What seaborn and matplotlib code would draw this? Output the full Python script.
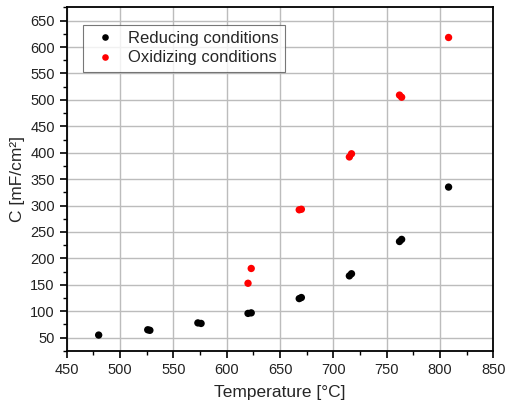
import numpy as np
import pandas as pd
import matplotlib
matplotlib.use("Agg")
import matplotlib.pyplot as plt
from matplotlib.ticker import MultipleLocator
import seaborn as sns

# Capacitance vs temperature, two measurements per temperature step
red_T = [480, 526, 528, 573, 576, 620, 623, 668, 670, 715, 717, 762, 764, 808]
red_C = [55, 65, 64, 78, 77, 96, 97, 124, 126, 167, 171, 232, 236, 335]
ox_T = [620, 623, 668, 670, 715, 717, 762, 764, 808]
ox_C = [153, 181, 292, 293, 392, 398, 509, 505, 618]

series_names = ["Reducing conditions", "Oxidizing conditions"]
series_colors = ["black", "red"]

df = pd.concat([
    pd.DataFrame({"T": red_T, "C": red_C, "cond": series_names[0]}),
    pd.DataFrame({"T": ox_T, "C": ox_C, "cond": series_names[1]}),
])

sns.set_theme(style="white")
plt.rcParams["font.family"] = ["Liberation Sans", "DejaVu Sans"]

fig = plt.figure(figsize=(5.05, 4.09), dpi=100)
ax = fig.add_axes([0.132, 0.142, 0.845, 0.840])

sns.scatterplot(data=df, x="T", y="C", hue="cond", palette=series_colors,
                hue_order=series_names, s=28, edgecolor="none", ax=ax, zorder=3)

ax.set_xlim(450, 850)
ax.set_ylim(25, 675)
ax.xaxis.set_major_locator(MultipleLocator(50))
ax.xaxis.set_minor_locator(MultipleLocator(25))
ax.yaxis.set_major_locator(MultipleLocator(50))
ax.yaxis.set_minor_locator(MultipleLocator(25))
ax.set_yticks(np.arange(50, 651, 50))

ax.grid(True, which="major", color="#bcbcbc", linewidth=1.0, zorder=0)
ax.set_axisbelow(True)
for sp in ax.spines.values():
    sp.set_visible(True)
    sp.set_color("black")
    sp.set_linewidth(1.3)

ax.tick_params(axis="both", which="major", direction="out", length=5, width=1.2,
               labelsize=10.5, color="black", labelcolor="#222222",
               bottom=True, left=True, top=False, right=False)
ax.tick_params(axis="both", which="minor", direction="out", length=3, width=1.0,
               color="black", bottom=True, left=True, top=False, right=False)

ax.set_xlabel("Temperature [°C]", fontsize=12.5, labelpad=6)
ax.set_ylabel("C [mF/cm²]", fontsize=12.5, labelpad=4)

leg = ax.legend(loc="upper left", bbox_to_anchor=(0.038, 0.95), borderaxespad=0,
                fontsize=12, frameon=True, fancybox=False, edgecolor="#555555",
                handletextpad=0.5, borderpad=0.4, labelspacing=0.25,
                markerscale=0.9, handlelength=1.8)
leg.get_frame().set_linewidth(0.8)

fig.savefig("out.png", dpi=100)
